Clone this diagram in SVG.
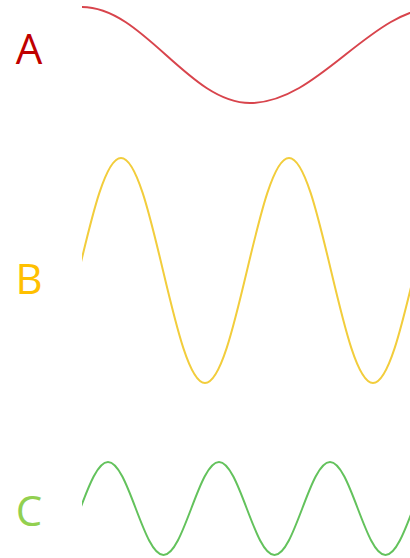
<svg xmlns="http://www.w3.org/2000/svg" width="410" height="558" viewBox="0 0 410 558">
  <style>
    .lbl { font-family: "Open Sans", "Liberation Sans", sans-serif; font-size: 42px; text-anchor: middle; }
    .wave { fill: none; stroke-width: 2; stroke-linejoin: round; stroke-linecap: round; }
  </style>
  <defs>
    <clipPath id="clip">
      <rect x="82" y="0" width="328" height="558"/>
    </clipPath>
  </defs>
  <rect width="410" height="558" fill="#ffffff"/>
  <g id="wave-a">
    <text class="lbl" x="29" y="64" fill="#c00000">A</text>
    <path class="wave" stroke="#d8444c" clip-path="url(#clip)" d="M 82 7 C 143.2 7, 188.8 103, 250 103 C 319.2 103, 370.8 7, 440 7"/>
  </g>
  <g id="wave-b">
    <text class="lbl" x="29" y="294" fill="#ffc000">B</text>
    <path class="wave" stroke="#f2cd3c" clip-path="url(#clip)" d="M 37 383 C 67.6 383, 90.4 158, 121 158 C 151.6 158, 174.4 383, 205 383 C 235.6 383, 258.4 158, 289 158 C 319.6 158, 342.4 383, 373 383 C 403.6 383, 426.4 158, 457 158"/>
  </g>
  <g id="wave-c">
    <text class="lbl" x="29" y="526" fill="#92d050">C</text>
    <path class="wave" stroke="#63c25c" clip-path="url(#clip)" d="M 52.5 555 C 72.7 555, 87.8 462, 108 462 C 128.2 462, 143.3 555, 163.5 555 C 183.7 555, 198.8 462, 219 462 C 239.2 462, 254.3 555, 274.5 555 C 294.7 555, 309.8 462, 330 462 C 350.2 462, 365.3 555, 385.5 555 C 405.7 555, 420.8 462, 441 462"/>
  </g>
</svg>
